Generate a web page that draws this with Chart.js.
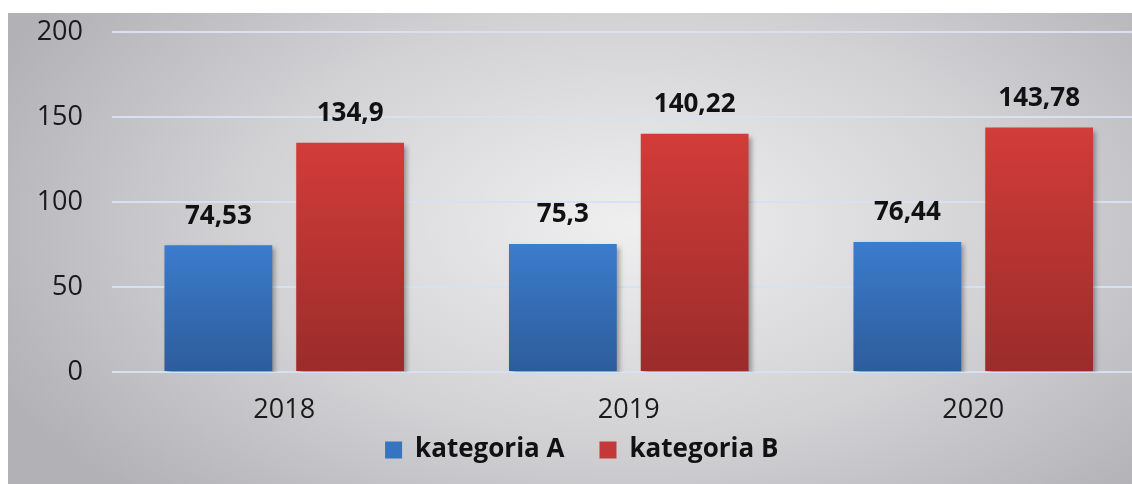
<!DOCTYPE html>
<html>
<head>
<meta charset="utf-8">
<script src="https://cdn.jsdelivr.net/npm/chart.js@4.4.1/dist/chart.umd.min.js"></script>
<style>
html, body { margin: 0; padding: 0; background: #fff; overflow: hidden; }
#wrap { width: 1132px; height: 484px; overflow: hidden; }
canvas { display: block; }
</style>
</head>
<body>
<div id="wrap"><canvas id="canvas" width="1162" height="484"></canvas></div>
<script>
var years = ['2018', '2019', '2020'];
var kategoriaA = [74.53, 75.3, 76.44];
var kategoriaB = [134.9, 140.22, 143.78];
var yTicks = [0, 50, 100, 150, 200];

var FONT = "'Open Sans', 'DejaVu Sans', sans-serif";

/* vertical shade per bar, light at the top, dark at the base */
function barShade(top, bottom) {
  return function (ctx) {
    var chart = ctx.chart, y = chart.scales.y;
    if (!y || ctx.raw === undefined) return top;
    var g = chart.ctx.createLinearGradient(0, y.getPixelForValue(ctx.raw), 0, y.getPixelForValue(0));
    g.addColorStop(0, top);
    g.addColorStop(1, bottom);
    return g;
  };
}

function fmt(v) {
  return String(v).replace('.', ',');
}

/* grey panel with a soft light spot in the middle */
var backdrop = {
  id: 'backdrop',
  beforeDraw: function (chart) {
    var c = chart.ctx;
    c.save();
    c.fillStyle = '#fff';
    c.fillRect(0, 0, chart.width, chart.height);
    c.translate(630, 225);
    c.scale(1, 0.55);
    var g = c.createRadialGradient(0, 0, 0, 0, 0, 700);
    g.addColorStop(0, '#efeff0');
    g.addColorStop(0.55, '#d2d2d5');
    g.addColorStop(1, '#b2b2b6');
    c.fillStyle = g;
    c.fillRect(8 - 630, (13 - 225) / 0.55, 2000, 2000);
    c.restore();
  }
};

var barShadow = {
  id: 'barShadow',
  beforeDatasetsDraw: function (chart) {
    var c = chart.ctx;
    c.save();
    c.shadowColor = 'rgba(0,0,0,0.35)';
    c.shadowBlur = 5;
    c.shadowOffsetX = 3;
    c.shadowOffsetY = 3;
  },
  afterDatasetsDraw: function (chart) {
    chart.ctx.restore();
  }
};

var valueLabels = {
  id: 'valueLabels',
  afterDraw: function (chart) {
    var c = chart.ctx;
    c.save();
    c.font = 'bold 26px ' + FONT;
    c.fillStyle = '#111';
    c.textAlign = 'center';
    c.textBaseline = 'middle';
    chart.data.datasets.forEach(function (ds, i) {
      chart.getDatasetMeta(i).data.forEach(function (bar, j) {
        c.fillText(fmt(ds.data[j]), bar.x, bar.y - 29);
      });
    });
    c.restore();
  }
};

new Chart(document.getElementById('canvas').getContext('2d'), {
  type: 'bar',
  data: {
    labels: years,
    datasets: [
      {
        label: 'kategoria A',
        data: kategoriaA,
        backgroundColor: barShade('#3b7ccc', '#2d5c9b'),
        categoryPercentage: 0.765,
        barPercentage: 0.818
      },
      {
        label: 'kategoria B',
        data: kategoriaB,
        backgroundColor: barShade('#d23c39', '#9a2c2a'),
        categoryPercentage: 0.765,
        barPercentage: 0.818
      }
    ]
  },
  options: {
    responsive: false,
    animation: false,
    layout: { padding: { left: 18, top: 32, right: 16.5, bottom: 11 } },
    scales: {
      x: {
        grid: { display: false, drawTicks: false },
        border: { display: false },
        ticks: { color: '#1a1a1a', padding: 22, font: { family: FONT, size: 27 } },
        afterFit: function (scale) {
          // keep the axis short so the legend sits close; let labels spill below it
          scale.height = 30;
          scale._computeLabelArea = function () { return undefined; };
        }
      },
      y: {
        min: 0,
        max: 200,
        afterBuildTicks: function (scale) {
          scale.ticks = yTicks.map(function (v) { return { value: v }; });
        },
        // invisible tick marks push the labels away from the plot
        grid: { color: '#d6e2f1', lineWidth: 2, drawTicks: true, tickLength: 29, tickColor: 'rgba(0,0,0,0)' },
        border: { display: false },
        ticks: { color: '#1a1a1a', padding: 0, font: { family: FONT, size: 27 } },
        afterFit: function (scale) { scale.width = 94; }
      }
    },
    plugins: {
      legend: {
        position: 'bottom',
        labels: {
          boxWidth: 17,
          boxHeight: 17,
          padding: 35,
          color: '#111',
          font: { family: FONT, size: 26, weight: 'bold' },
          generateLabels: function (chart) {
            var fills = ['#3574c0', '#c3393a'];
            return chart.data.datasets.map(function (ds, i) {
              return { text: ds.label, fillStyle: fills[i], strokeStyle: fills[i], lineWidth: 0, datasetIndex: i, fontColor: '#111' };
            });
          }
        }
      },
      tooltip: { enabled: false }
    }
  },
  plugins: [backdrop, barShadow, valueLabels]
});
</script>
</body>
</html>
